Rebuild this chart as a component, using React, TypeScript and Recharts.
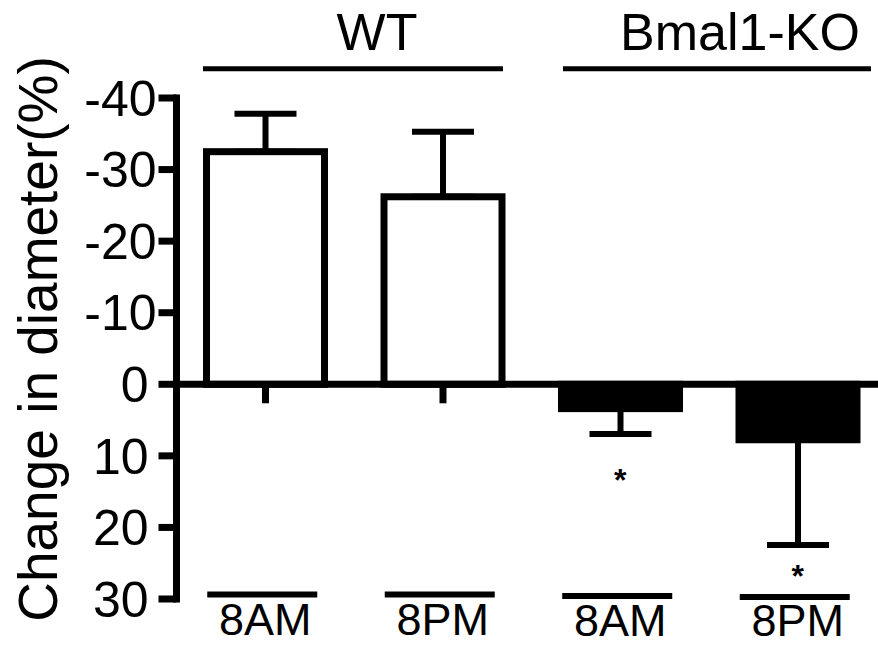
import React from 'react';
import { ComposedChart, Bar, Cell, ErrorBar, XAxis, YAxis, ReferenceLine, Line } from 'recharts';

// ---- data ----
const times = ['8AM', '8PM', '8AM', '8PM'];
const groups = ['WT', 'WT', 'Bmal1-KO', 'Bmal1-KO'];
const changes = [-32.5, -26.2, 3.4, 7.75];
const sems = [5.3, 9.1, 3.55, 14.7];
const stars: (number | null)[] = [null, null, 12.3, 25.8];
const yTicks = [-40, -30, -20, -10, 0, 10, 20, 30];
const fills = ['#ffffff', '#ffffff', '#000000', '#000000'];

const data = times.map((t, i) => ({
  id: i,
  time: t,
  group: groups[i],
  change: changes[i],
  err: changes[i] < 0 ? [sems[i], 0] : [0, sems[i]],
  sig: stars[i],
}));

// ---- style ----
const FONT = '"Liberation Sans", Arial, Helvetica, sans-serif';
const W = 878;
const H = 646;

const YTick = (props: any) => {
  const { x, y, payload } = props;
  const v = payload.value as number;
  return (
    <text
      x={x - (v >= 0 ? 8 : 0)}
      y={y}
      dy="0.355em"
      textAnchor="end"
      fontSize={50}
      fontFamily={FONT}
      fill="#000"
    >
      {v}
    </text>
  );
};

const bottomStyle = [
  { line: 594.5, text: 635 },
  { line: 594.5, text: 635 },
  { line: 596, text: 636 },
  { line: 597, text: 636 },
];

const BottomTick = (props: any) => {
  const { x, payload, index } = props;
  const s = bottomStyle[index] || bottomStyle[0];
  return (
    <g>
      <line x1={x - 58} x2={x + 52} y1={s.line} y2={s.line} stroke="#000" strokeWidth={6} />
      <text x={x} y={s.text} textAnchor="middle" fontSize={45} fontFamily={FONT} fill="#000">
        {payload.value}
      </text>
    </g>
  );
};

const groupStyle = [
  { l: -151, r: 149, dx: 23 },
  { l: -146, r: 162, dx: 31 },
];

const GroupTick = (props: any) => {
  const { x, payload, index } = props;
  const s = groupStyle[index] || groupStyle[0];
  return (
    <g>
      <line x1={x + s.l} x2={x + s.r} y1={68.7} y2={68.7} stroke="#000" strokeWidth={5} />
      <text x={x + s.dx} y={50} textAnchor="middle" fontSize={52} fontFamily={FONT} fill="#000">
        {payload.value}
      </text>
    </g>
  );
};

const BarShape = (props: any) => {
  const { x, y, width, height, fill, value } = props;
  const v = Array.isArray(value) ? value[1] : value;
  const y1 = y;
  const y2 = y + height;
  const top = Math.min(y1, y2);
  const bottom = Math.max(y1, y2);
  const base = v < 0 ? bottom : top;
  const cx = x + width / 2;
  return (
    <g>
      <line x1={cx} x2={cx} y1={base} y2={base + 19} stroke="#000" strokeWidth={7} />
      <rect x={x} y={top} width={width} height={bottom - top} fill={fill} stroke="#000" strokeWidth={7} />
    </g>
  );
};

const STAR_SIZE = 32;

const StarDot = (props: any) => {
  const { cx, cy, value } = props;
  if (cy == null || value == null || isNaN(cy)) return <g key={props.key} />;
  return (
    <text
      key={props.key}
      x={cx}
      y={cy + STAR_SIZE * 0.575}
      textAnchor="middle"
      fontSize={STAR_SIZE}
      fontWeight="bold"
      fontFamily={FONT}
      fill="#000"
    >
      *
    </text>
  );
};

const YLabel = () => (
  <text
    x={57}
    y={339}
    transform="rotate(-90, 57, 339)"
    textAnchor="middle"
    fontSize={55}
    fontFamily={FONT}
    fill="#000"
  >
    Change in diameter(%)
  </text>
);

export default function App() {
  return (
    <div style={{ position: 'absolute', left: 0, top: 0, width: W, height: H, background: '#fff' }}>
      <ComposedChart
        width={W}
        height={H}
        data={data}
        margin={{ top: 0, right: -8.5, bottom: 0, left: 0 }}
        barCategoryGap={0}
      >
        <XAxis
          xAxisId={0}
          dataKey="time"
          orientation="bottom"
          height={47}
          axisLine={false}
          tickLine={false}
          interval={0}
          tick={<BottomTick />}
        />
        <XAxis
          xAxisId="group"
          dataKey="group"
          orientation="top"
          height={98}
          allowDuplicatedCategory={false}
          axisLine={false}
          tickLine={false}
          interval={0}
          tick={<GroupTick />}
        />
        <YAxis
          width={176.5}
          type="number"
          domain={[-40, 30]}
          reversed
          ticks={yTicks}
          interval={0}
          allowDataOverflow
          tickSize={18}
          tickMargin={2}
          axisLine={{ stroke: '#000', strokeWidth: 7, strokeLinecap: 'square' }}
          tickLine={{ stroke: '#000', strokeWidth: 7 }}
          tick={<YTick />}
          label={{ content: () => <YLabel /> }}
        />
        <Bar dataKey="change" barSize={118} shape={<BarShape />} isAnimationActive={false}>
          {data.map((d, i) => (
            <Cell key={d.id} fill={fills[i]} />
          ))}
          <ErrorBar dataKey="err" direction="y" width={31} stroke="#000" strokeWidth={6} />
        </Bar>
        <ReferenceLine y={0} stroke="#000" strokeWidth={7} ifOverflow="visible" />
        <Line
          dataKey="sig"
          stroke="none"
          dot={(p: any) => <StarDot {...p} />}
          activeDot={false}
          legendType="none"
          isAnimationActive={false}
        />
      </ComposedChart>
    </div>
  );
}
